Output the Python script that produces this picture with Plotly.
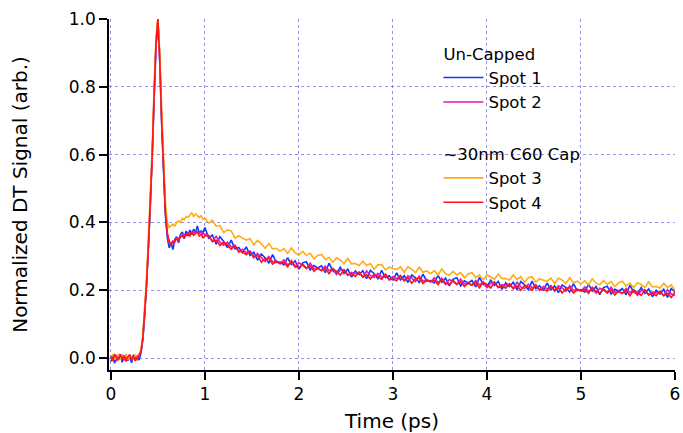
import numpy as np
import plotly.graph_objects as go

# Sampling grid (ps): 20 fs steps through the pump pulse, 40 fs steps on the tail
time_ps = np.concatenate([
    np.round(np.arange(0.0, 1.0001, 0.02), 2),
    np.round(np.arange(1.04, 6.0001, 0.04), 2),
])

# Normalized DT signal, un-capped sample
spot1 = [
    -0.010, 0.006, -0.015, 0.008, -0.004, 0.012, -0.012, 0.003, 0.009, -0.008, 0.005, -0.014, 0.010, -0.002, 0.007, -0.006,
    0.015, 0.055, 0.125, 0.215, 0.33, 0.45, 0.59, 0.77, 0.92, 0.99,
    0.87, 0.69, 0.56, 0.42, 0.355, 0.325, 0.34, 0.32, 0.35, 0.358,
    0.34, 0.365, 0.372, 0.352, 0.375, 0.36, 0.378, 0.365, 0.38, 0.37,
    0.39, 0.368, 0.375, 0.37, 0.385,
    0.354, 0.363, 0.336, 0.358, 0.344, 0.326, 0.348, 0.322, 0.326, 0.311,
    0.328, 0.303, 0.312, 0.289, 0.307, 0.296, 0.281, 0.305, 0.282, 0.283,
    0.275, 0.296, 0.276, 0.287, 0.262, 0.281, 0.284, 0.260, 0.273, 0.266,
    0.272, 0.252, 0.280, 0.258, 0.250, 0.268, 0.250, 0.262, 0.239, 0.257,
    0.246, 0.258, 0.234, 0.259, 0.249, 0.234, 0.259, 0.237, 0.243, 0.231,
    0.251, 0.231, 0.243, 0.223, 0.245, 0.237, 0.223, 0.248, 0.227, 0.229,
    0.222, 0.244, 0.224, 0.236, 0.213, 0.233, 0.237, 0.213, 0.228, 0.222,
    0.229, 0.210, 0.238, 0.218, 0.211, 0.230, 0.214, 0.226, 0.203, 0.222,
    0.211, 0.224, 0.201, 0.226, 0.216, 0.202, 0.227, 0.205, 0.213, 0.201,
    0.221, 0.201, 0.213, 0.193, 0.216, 0.208, 0.195, 0.220, 0.199, 0.202,
    0.195, 0.218, 0.198, 0.211, 0.187, 0.208, 0.212, 0.189, 0.203, 0.198,
    0.205, 0.187, 0.215, 0.195, 0.188, 0.208, 0.191, 0.204, 0.181, 0.200,
    0.189, 0.203, 0.179, 0.205, 0.196,
]

spot2 = [
    0.002, -0.005, 0.007, -0.009, 0.004, 0.001, 0.008, -0.006, 0.003, -0.002, 0.006, -0.007, 0.004, 0.002, -0.004, 0.005,
    0.018, 0.058, 0.128, 0.218, 0.335, 0.455, 0.595, 0.775, 0.925, 1.00,
    0.89, 0.71, 0.575, 0.435, 0.365, 0.34, 0.338, 0.345, 0.342, 0.355,
    0.352, 0.36, 0.358, 0.365, 0.362, 0.37, 0.366, 0.372, 0.368, 0.374,
    0.37, 0.368, 0.372, 0.365, 0.366,
    0.361, 0.344, 0.359, 0.342, 0.333, 0.342, 0.328, 0.331, 0.313, 0.321,
    0.311, 0.315, 0.296, 0.309, 0.298, 0.285, 0.300, 0.284, 0.287, 0.278,
    0.290, 0.275, 0.282, 0.268, 0.281, 0.274, 0.264, 0.280, 0.264, 0.264,
    0.258, 0.271, 0.258, 0.264, 0.247, 0.259, 0.260, 0.244, 0.253, 0.249,
    0.253, 0.239, 0.257, 0.243, 0.238, 0.250, 0.239, 0.246, 0.230, 0.241,
    0.234, 0.243, 0.227, 0.243, 0.236, 0.226, 0.242, 0.227, 0.232, 0.224,
    0.237, 0.223, 0.230, 0.217, 0.232, 0.226, 0.217, 0.233, 0.219, 0.220,
    0.215, 0.229, 0.216, 0.224, 0.208, 0.221, 0.224, 0.208, 0.217, 0.214,
    0.218, 0.205, 0.224, 0.210, 0.205, 0.218, 0.207, 0.214, 0.200, 0.211,
    0.204, 0.213, 0.197, 0.213, 0.207, 0.197, 0.214, 0.199, 0.204, 0.197,
    0.210, 0.197, 0.204, 0.192, 0.206, 0.201, 0.192, 0.209, 0.194, 0.196,
    0.191, 0.206, 0.193, 0.201, 0.185, 0.199, 0.201, 0.186, 0.195, 0.192,
    0.196, 0.184, 0.202, 0.189, 0.185,
]

# Normalized DT signal, ~30 nm C60 capped sample
spot3 = [
    0.004, 0.010, -0.004, 0.006, 0.012, -0.002, 0.007, 0.001, 0.011, -0.005, 0.008, 0.003, -0.003, 0.009, 0.005, 0.012,
    0.025, 0.07, 0.145, 0.24, 0.36, 0.48, 0.62, 0.80, 0.95, 1.00,
    0.90, 0.73, 0.59, 0.46, 0.40, 0.385, 0.39, 0.395, 0.39, 0.40,
    0.405, 0.40, 0.412, 0.408, 0.418, 0.415, 0.422, 0.428, 0.418, 0.425,
    0.42, 0.415, 0.42, 0.41, 0.412,
    0.398, 0.407, 0.389, 0.391, 0.370, 0.378, 0.375, 0.354, 0.361, 0.354,
    0.348, 0.353, 0.334, 0.347, 0.337, 0.324, 0.338, 0.322, 0.324, 0.315,
    0.323, 0.309, 0.325, 0.310, 0.304, 0.315, 0.303, 0.309, 0.293, 0.303,
    0.306, 0.291, 0.297, 0.283, 0.296, 0.289, 0.279, 0.294, 0.278, 0.279,
    0.273, 0.286, 0.273, 0.279, 0.262, 0.275, 0.276, 0.260, 0.268, 0.264,
    0.261, 0.269, 0.253, 0.269, 0.262, 0.252, 0.268, 0.253, 0.257, 0.249,
    0.258, 0.245, 0.263, 0.249, 0.244, 0.256, 0.245, 0.252, 0.237, 0.248,
    0.252, 0.238, 0.245, 0.232, 0.246, 0.240, 0.232, 0.248, 0.234, 0.235,
    0.230, 0.245, 0.232, 0.240, 0.224, 0.237, 0.240, 0.224, 0.234, 0.230,
    0.227, 0.236, 0.220, 0.236, 0.230, 0.220, 0.237, 0.222, 0.227, 0.219,
    0.228, 0.216, 0.234, 0.221, 0.216, 0.229, 0.218, 0.226, 0.211, 0.222,
    0.227, 0.213, 0.221, 0.208, 0.222, 0.217, 0.208, 0.225, 0.210, 0.211,
    0.207, 0.221, 0.208, 0.216, 0.200,
]

spot4 = [
    0.005, -0.008, 0.012, 0.002, -0.006, 0.010, -0.003, 0.008, -0.010, 0.004, 0.011, -0.005, 0.006, -0.008, 0.003, 0.009,
    0.02, 0.06, 0.13, 0.22, 0.34, 0.46, 0.60, 0.78, 0.93, 1.00,
    0.88, 0.70, 0.57, 0.43, 0.37, 0.345, 0.335, 0.34, 0.345, 0.352,
    0.348, 0.358, 0.362, 0.355, 0.365, 0.368, 0.36, 0.37, 0.362, 0.368,
    0.372, 0.36, 0.365, 0.355, 0.36,
    0.362, 0.344, 0.348, 0.332, 0.342, 0.333, 0.321, 0.333, 0.315, 0.313,
    0.305, 0.315, 0.299, 0.303, 0.283, 0.293, 0.294, 0.277, 0.285, 0.280,
    0.283, 0.269, 0.287, 0.272, 0.266, 0.277, 0.265, 0.272, 0.256, 0.266,
    0.258, 0.265, 0.249, 0.264, 0.256, 0.245, 0.260, 0.245, 0.249, 0.241,
    0.254, 0.239, 0.246, 0.233, 0.247, 0.241, 0.232, 0.248, 0.232, 0.233,
    0.228, 0.243, 0.230, 0.237, 0.221, 0.234, 0.236, 0.220, 0.230, 0.226,
    0.230, 0.217, 0.235, 0.221, 0.217, 0.229, 0.218, 0.225, 0.211, 0.222,
    0.215, 0.223, 0.207, 0.224, 0.217, 0.207, 0.224, 0.209, 0.213, 0.206,
    0.219, 0.205, 0.213, 0.200, 0.214, 0.209, 0.200, 0.216, 0.202, 0.203,
    0.198, 0.213, 0.200, 0.207, 0.192, 0.205, 0.208, 0.192, 0.202, 0.199,
    0.203, 0.191, 0.209, 0.196, 0.191, 0.204, 0.193, 0.201, 0.186, 0.198,
    0.191, 0.200, 0.184, 0.201, 0.194, 0.185, 0.201, 0.187, 0.191, 0.184,
    0.197, 0.184, 0.191, 0.179, 0.194,
]

series = [
    ("Spot 1", spot1, "#0a3cff", "uncapped", "Un-Capped"),
    ("Spot 2", spot2, "#e619b4", "uncapped", "Un-Capped"),
    ("Spot 3", spot3, "#ffab12", "capped", "~30nm C60 Cap"),
    ("Spot 4", spot4, "#ff1414", "capped", "~30nm C60 Cap"),
]

FONT = "DejaVu Sans"

fig = go.Figure()
for name, vals, color, group, gtitle in series:
    assert len(vals) == len(time_ps)
    fig.add_trace(go.Scatter(
        x=time_ps, y=vals, mode="lines", name=name,
        line=dict(color=color, width=1.6),
        legendgroup=group,
        legendgrouptitle=dict(text=gtitle, font=dict(family=FONT, size=16.5, color="black")),
    ))

axis_common = dict(
    showgrid=True, gridcolor="rgba(110,110,255,0.75)", gridwidth=1, griddash="dot",
    showline=True, linecolor="black", linewidth=1.5,
    ticks="outside", ticklen=8, tickwidth=1.5, tickcolor="black",
    tickfont=dict(family=FONT, size=17, color="black"),
    zeroline=False, mirror=False, automargin=False,
)

fig.update_xaxes(
    range=[-0.02, 6.0], tickvals=[0, 1, 2, 3, 4, 5, 6], ticktext=["0", "1", "2", "3", "4", "5", "6"],
    title=dict(text="Time (ps)", font=dict(family=FONT, size=20, color="black"), standoff=11),
    **axis_common,
)
fig.update_yaxes(
    range=[-0.035, 1.0], tickvals=[0.0, 0.2, 0.4, 0.6, 0.8, 1.0],
    ticktext=["0.0", "0.2", "0.4", "0.6", "0.8", "1.0"],
    title=dict(text="Normalized DT Signal (arb.)", font=dict(family=FONT, size=20, color="black"), standoff=36),
    **axis_common,
)

fig.update_layout(
    width=683, height=433,
    margin=dict(l=109, r=8, t=19, b=63, autoexpand=False),
    paper_bgcolor="white", plot_bgcolor="white",
    font=dict(family=FONT, color="black"),
    legend=dict(
        x=0.582, y=0.952, xanchor="left", yanchor="top",
        bgcolor="rgba(0,0,0,0)", borderwidth=0,
        font=dict(family=FONT, size=16.5, color="black"),
        traceorder="grouped", tracegroupgap=27, itemwidth=40,
    ),
    showlegend=True,
)

fig.write_html("out.html")
